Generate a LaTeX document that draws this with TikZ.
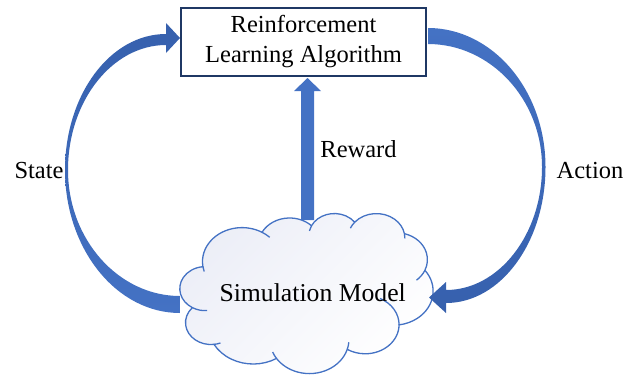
\documentclass[tikz,border=0pt]{standalone}
\usepackage{fontspec}
\setmainfont{Liberation Serif}
\definecolor{navy}{HTML}{1F3864}
\definecolor{arrL}{HTML}{4472C4}
\definecolor{arrD}{HTML}{3660AD}
\definecolor{cldline}{HTML}{4472C4}
\definecolor{cldtop}{HTML}{ECEEF7}
\makeatletter
\newcommand\cldcalc[5]{% #1 name, #2 wR, #3 hR, #4 visual start, #5 visual sweep
  \pgfmathsetmacro\cld@a{atan2((#2)*sin(#4),(#3)*cos(#4))}%
  \pgfmathsetmacro\cld@b{atan2((#2)*sin((#4)+(#5)),(#3)*cos((#4)+(#5)))}%
  \pgfmathsetmacro\cld@d{\cld@b-(\cld@a)}%
  \pgfmathsetmacro\cld@d{\cld@d+360*(((#5)>0)*(\cld@d<0))-360*(((#5)<0)*(\cld@d>0))}%
  \pgfmathsetmacro\cld@s{0-(\cld@a)}%
  \pgfmathsetmacro\cld@dd{0-(\cld@d)}%
  \expandafter\xdef\csname cldarc#1\endcsname{arc[start angle=\cld@s,delta angle=\cld@dd,x radius=#2pt,y radius=#3pt]}%
}
\makeatother
\begin{document}
\begin{tikzpicture}[x=1pt,y=-1pt,font=\fontsize{24.5}{30}\selectfont,
  lbl/.style={anchor=base,inner sep=0pt},
  boxst/.style={draw=navy,line width=2.2pt,fill=white,minimum width=245pt,minimum height=68pt,align=center,inner sep=0pt},
  cloudst/.style={draw=cldline,line width=1.3pt,top color=cldtop,bottom color=white,shading angle=45},
  cloudin/.style={draw=cldline,line width=1.3pt},
  larrow/.style={top color=arrD,bottom color=arrL},
  rarrow/.style={top color=arrL,bottom color=arrD},
  uparrow/.style={fill=arrL}]
\useasboundingbox (0,0) rectangle (636,376);
% cloud geometry (Office cloud, units of 1/432 of its box)
\cldcalc{A}{67.53}{91.90}{-190.4875}{123.7805}
\cldcalc{B}{53.33}{72.67}{-144.1024}{89.9452}
\cldcalc{C}{43.65}{59.45}{-145.8079}{99.7230}
\cldcalc{D}{48.57}{65.95}{-130.9861}{117.2417}
\cldcalc{E}{53.33}{72.73}{-78.7089}{109.0269}
\cldcalc{F}{67.75}{92.20}{-46.2673}{130.2690}
\cldcalc{G}{57.85}{78.67}{0.6250}{114.0333}
\cldcalc{H}{67.52}{92.15}{22.4516}{115.1726}
\cldcalc{I}{77.20}{105.43}{66.2426}{75.7110}
\cldcalc{J}{43.60}{59.18}{-274.9421}{146.7356}
\cldcalc{K}{43.45}{59.45}{-246.8285}{152.5189}
\cldcalc{Ab}{67.53}{91.90}{-190.4875}{-11.858}
\cldcalc{Af}{67.53}{91.90}{-66.707}{12.319}
\cldcalc{Cb}{43.65}{59.45}{-145.8079}{-17.686}
\cldcalc{Db}{48.57}{65.95}{-130.9861}{-18.195}
\cldcalc{Df}{48.57}{65.95}{-13.7444}{14.859}
\cldcalc{Ef}{53.33}{72.73}{30.318}{27.752}
\cldcalc{Gb}{57.85}{78.67}{0.625}{-70.917}
\cldcalc{Hb}{67.52}{92.15}{22.4516}{-15.998}
\cldcalc{Hf}{67.52}{92.15}{137.6242}{14.081}
\cldcalc{Jb}{43.60}{59.18}{-274.9421}{-11.447}
\cldcalc{Kb}{43.45}{59.45}{-246.8285}{-26.430}
\begin{scope}[shift={(180,213)},xscale=0.58565,yscale=0.37037]
  \path[cloudst] (39,143.7) coordinate (c0) \cldarcA coordinate (c1) \cldarcB coordinate (c2)
    \cldarcC coordinate (c3) \cldarcD coordinate (c4) \cldarcE coordinate (c5) \cldarcF coordinate (c6)
    \cldarcG coordinate (c7) \cldarcH coordinate (c8) \cldarcI coordinate (c9) \cldarcJ coordinate (c10)
    \cldarcK -- cycle;
  \path[cloudin] (c0) \cldarcAb (c1) \cldarcAf (c2) \cldarcCb (c3) \cldarcDb (c4) \cldarcDf
    (c5) \cldarcEf (c6) \cldarcGb (c7) \cldarcHb (c8) \cldarcHf (c9) \cldarcJb (c10) \cldarcKb;
\end{scope}
\node[lbl,font=\fontsize{25.7}{30}\selectfont] (sim) at (312.7,301.7) {Simulation Model};
% algorithm box
\node[boxst] (rla) at (303.5,42) {Reinforcement\\Learning Algorithm};
% Reward arrow
\coordinate (rwTail) at (307.5,220);
\coordinate (rwTip) at (307.5,78);
\path[uparrow] ([xshift=-6.5pt]rwTail) -- ([xshift=-6.5pt]rwTail |- 0,91) -- (294,91) -- (rwTip)
  -- (321,91) -- ([xshift=6.5pt]rwTail |- 0,91) -- ([xshift=6.5pt]rwTail) -- cycle;
% State arrow (cloud -> box)
\path[larrow] (180,313) .. controls (116.5,313) and (65,249) .. (65,170)
  .. controls (65,95) and (110,34) .. (166,34) -- (166,23) -- (180,38) -- (166,53) -- (166,45)
  .. controls (112.4,45) and (68,101) .. (68,170)
  .. controls (68,239.6) and (118.7,296) .. (180,296) -- cycle;
% Action arrow (box -> cloud)
\path[rarrow] (428,28) .. controls (492.6,28) and (545.5,90.2) .. (545.5,167)
  .. controls (545.5,242.1) and (500.7,303) .. (446,303) -- (446,313) -- (429,297.5) -- (446,282) -- (446,290)
  .. controls (498.5,290) and (542,234.9) .. (542,167)
  .. controls (542,99.1) and (490.4,44) .. (428,44) -- cycle;
% labels
\node[lbl] (state) at (39,178) {State};
\node[lbl] (action) at (590,178) {Action};
\node[lbl] (reward) at (358.5,157) {Reward};
\end{tikzpicture}
\end{document}
